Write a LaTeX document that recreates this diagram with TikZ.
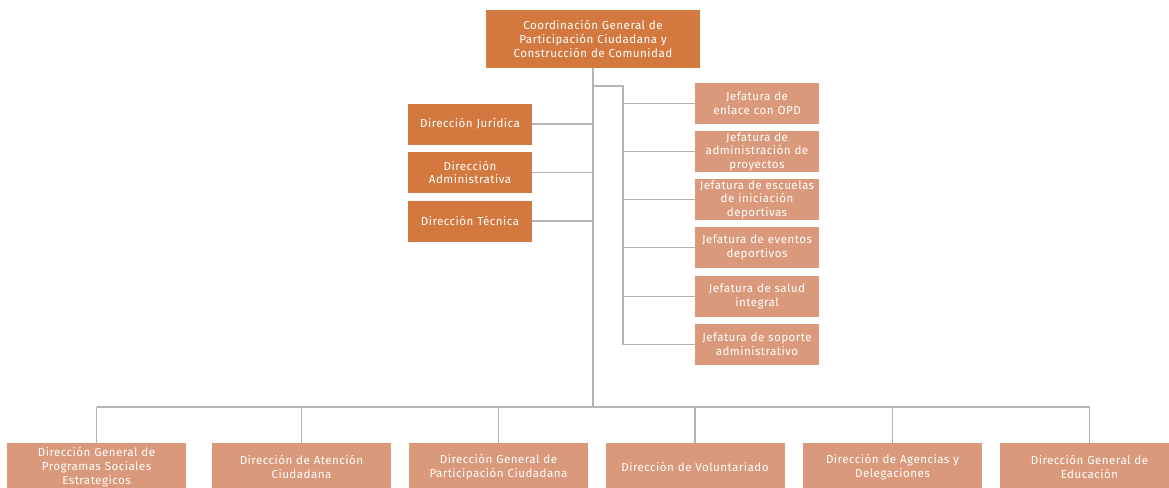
\documentclass[tikz,border=0pt]{standalone}
\usepackage{fontspec}
\setmainfont{Fira Sans}[LetterSpace=4]
\definecolor{darkbox}{HTML}{D3783F}
\definecolor{lightbox}{HTML}{DA997A}
\definecolor{wire}{HTML}{B4B4B4}
\begin{document}
\begin{tikzpicture}[x=1pt, y=-1pt,
    unit/.style={fill=darkbox, text=white, align=center, inner sep=0pt,
      font=\fontsize{11.6}{13.6}\selectfont},
    sub/.style={unit, fill=lightbox},
    jef/.style={sub, minimum width=124pt, minimum height=41pt, text width=124pt},
    dir/.style={unit, minimum width=124pt, minimum height=41pt, text width=124pt},
    gen/.style={sub, minimum width=179pt, minimum height=48pt, text width=177pt}]
    \useasboundingbox (0,0) rectangle (1169,487);
    % boxes
    \node [unit, minimum width=214pt, minimum height=58pt, text width=210pt]
      (coord) at (593,39) {Coordinación General de\\Participación Ciudadana y\\Construcción de Comunidad};
    \begin{scope}[every node/.style={dir}]
      \node (dj) at (470,124) {Dirección Jurídica}; \node (da) at (470,172.5)
      {Dirección\\Administrativa}; \node (dt) at (470,221) {Dirección Técnica};
    \end{scope}
    \begin{scope}[every node/.style={jef}]
      \node (j1) at (757,103.5) {Jefatura de\\enlace con OPD}; \node (j2) at
      (757,151.5) {Jefatura de\\administración de\\proyectos}; \node (j3) at
      (757,199.5) {Jefatura de escuelas\\de iniciación\\deportivas}; \node (j4)
      at (757,247.5) {Jefatura de eventos\\deportivos}; \node (j5) at
      (757,296.5) {Jefatura de salud\\integral}; \node (j6) at (757,344.5)
      {Jefatura de soporte\\administrativo};
    \end{scope}
    \begin{scope}[every node/.style={gen}]
      \node (g1) at (96.5,467) {Dirección General de\\Programas Sociales\\Estrategicos};
      \node (g2) at (301.5,467) {Dirección de Atención\\Ciudadana}; \node (g3)
      at (498.5,467) {Dirección General de\\Participación Ciudadana}; \node (g4)
      at (695,467) {Dirección de Voluntariado}; \node (g5) at (892.5,467)
      {Dirección de Agencias y\\Delegaciones}; \node (g6) at (1089.5,467)
      {Dirección General de\\Educación};
    \end{scope}
    % connectors
    \begin{scope}[draw=wire, line width=1.3pt]
      \coordinate (bus) at (593,407); \coordinate (fork) at (623,86);
      \draw (coord.south) to (bus); \draw (g1.north |- bus) to (g6.north |- bus);
      \foreach \n in {g1,g2,g3,g4,g5,g6} \draw (\n.north |- bus) to (\n.north);
      \foreach \n in {dj,da,dt} \draw (\n.east) to (\n.east -| bus);
      \draw (fork -| bus) to (fork) to (fork |- j6.west);
      \foreach \n in {j1,j2,j3,j4,j5,j6} \draw (\n.west -| fork) to (\n.west);
    \end{scope}
  \end{tikzpicture}
\end{document}
